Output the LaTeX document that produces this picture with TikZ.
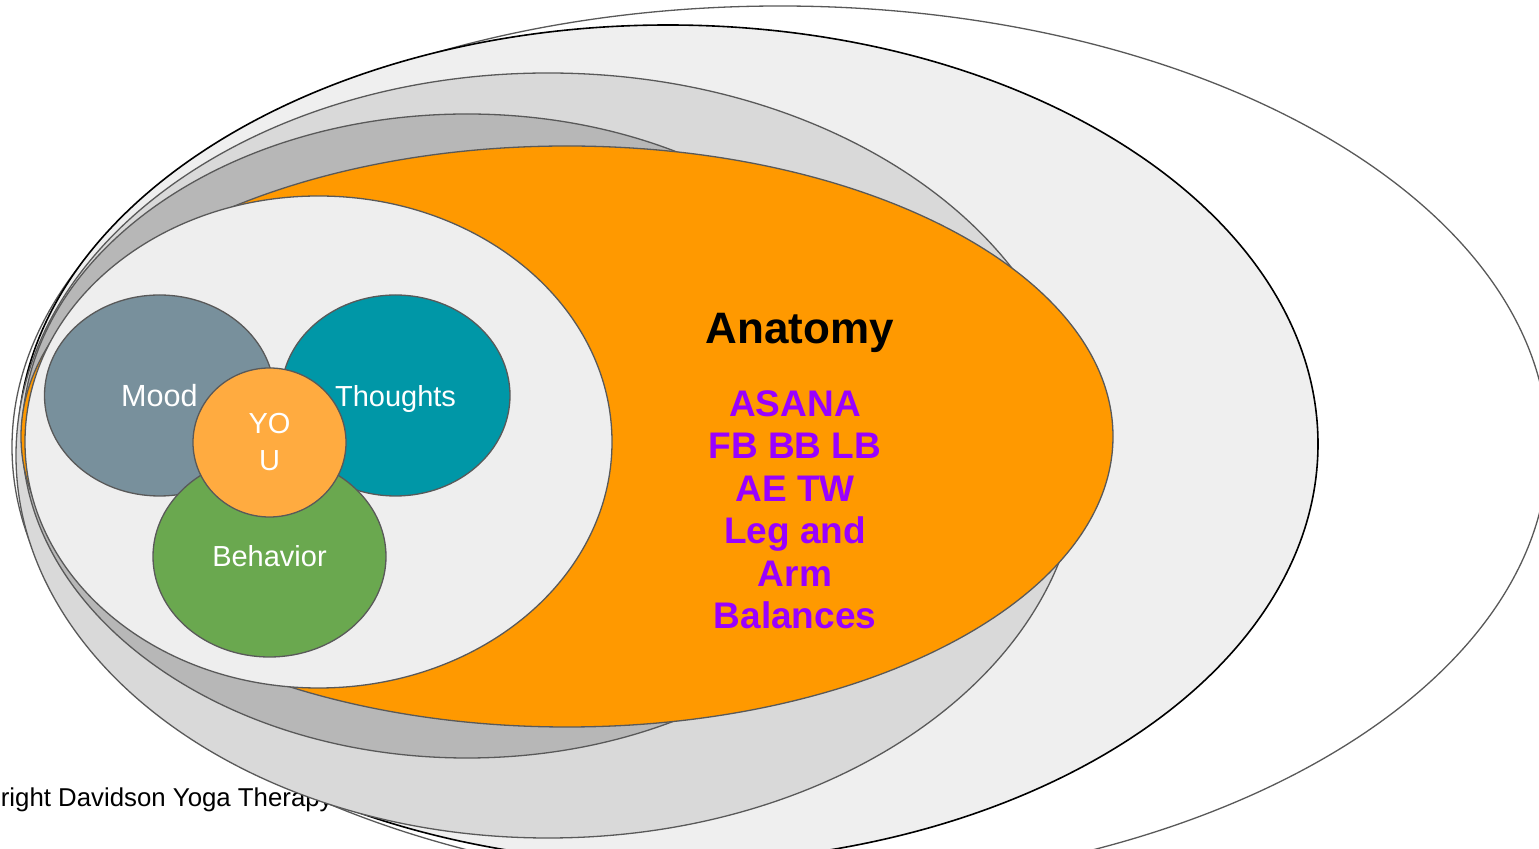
\documentclass[tikz,border=0pt]{standalone}
\usepackage{fontspec}
\setmainfont{Liberation Sans}
\usepackage{tikz}
\usetikzlibrary{shapes.geometric}

\definecolor{rimgray}{HTML}{595959}
\definecolor{shellgray}{HTML}{EFEFEF}
\definecolor{midgray}{HTML}{D9D9D9}
\definecolor{darkgray}{HTML}{B7B7B7}
\definecolor{anatomyorange}{HTML}{FF9900}
\definecolor{coregray}{HTML}{EEEEEE}
\definecolor{moodgray}{HTML}{78909C}
\definecolor{thoughtteal}{HTML}{0097A7}
\definecolor{behaviorgreen}{HTML}{6AA84F}
\definecolor{youorange}{HTML}{FFAB40}
\definecolor{asanapurple}{HTML}{9900FF}

\begin{document}
\begin{tikzpicture}[x=0.5pt, y=-0.5pt,
    ring/.style={draw=rimgray, line width=0.65pt},
    bubble/.style={ellipse, draw=rimgray, line width=0.65pt, inner sep=0pt,
      text=white, font=\fontsize{14.5}{18.5}\selectfont, align=center}
  ]
  \useasboundingbox (0,0) rectangle (1539,849);
  \fill[white] (0,0) rectangle (1539,849);

  % outer layers
  \draw[ring, fill=white] (780,447) ellipse [x radius=768, y radius=441];
  \draw[draw=black, line width=0.8pt, fill=shellgray] (668,444) ellipse [x radius=650, y radius=419];
  \node[anchor=base west, inner sep=0pt, font=\fontsize{12.9}{15}\selectfont] (credit) at (0.5,807) {right Davidson Yoga Therapy};
  \draw[ring, fill=midgray] (548,455.5) ellipse [x radius=532, y radius=382.5];
  \draw[ring, fill=darkgray] (467,436) ellipse [x radius=445, y radius=322];
  \draw[ring, fill=anatomyorange] (567,436.5) ellipse [x radius=546, y radius=290.5];
  \draw[ring, fill=coregray] (318.5,442) ellipse [x radius=293.5, y radius=246];

  % anatomy text
  \node[anchor=base, inner sep=0pt, font=\fontsize{22}{26}\bfseries] (anatomy) at (800,344) {Anatomy};
  \node[anchor=north, inner sep=0pt, align=center, text=asanapurple,
    font=\fontsize{18.5}{21.25}\bfseries] (asana) at (795,390)
    {ASANA\\FB BB LB\\AE TW\\Leg and\\Arm\\Balances};

  % inner circles
  \node[bubble, fill=moodgray, minimum width=115pt, minimum height=100.5pt,
    font=\fontsize{15.3}{18.5}\selectfont] (mood) at (159.5,395.5) {Mood};
  \node[bubble, fill=thoughtteal, minimum width=114.5pt, minimum height=100.5pt, text depth=0pt] (thoughts) at (395.5,395.5) {Thoughts};
  \node[bubble, fill=behaviorgreen, minimum width=116.5pt, minimum height=100.5pt] (behavior) at (269.5,556.5) {Behavior};
  \node[bubble, fill=youorange, minimum width=76.5pt, minimum height=74.5pt] (you) at (269.5,442.5) {YO\\U};
\end{tikzpicture}
\end{document}
